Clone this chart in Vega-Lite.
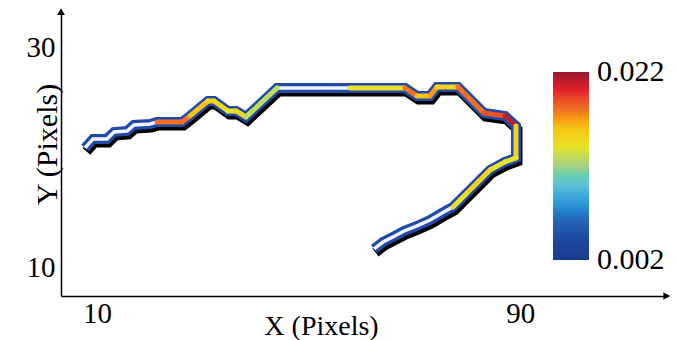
{
  "$schema": "https://vega.github.io/schema/vega-lite/v6.json",
  "width": 607,
  "height": 286,
  "autosize": {"type": "none"},
  "padding": {"left": 61, "top": 10, "right": 8, "bottom": 44},
  "background": "white",
  "config": {"view": {"stroke": null}, "font": "Liberation Serif"},
  "datasets": {
    "path": [
      {"i": 1, "x": 7.73, "y": 20.91, "v": 0.004},
      {"i": 2, "x": 9.24, "y": 21.73, "v": 0.004},
      {"i": 3, "x": 11.89, "y": 21.73, "v": 0.004},
      {"i": 4, "x": 13.21, "y": 22.36, "v": 0.004},
      {"i": 5, "x": 15.67, "y": 22.45, "v": 0.004},
      {"i": 6, "x": 16.99, "y": 23.0, "v": 0.004},
      {"i": 7, "x": 20.02, "y": 23.09, "v": 0.005},
      {"i": 8, "x": 21.34, "y": 23.27, "v": 0.018},
      {"i": 9, "x": 26.07, "y": 23.27, "v": 0.018},
      {"i": 10, "x": 27.58, "y": 23.82, "v": 0.016},
      {"i": 11, "x": 30.98, "y": 25.18, "v": 0.015},
      {"i": 12, "x": 32.12, "y": 25.18, "v": 0.015},
      {"i": 13, "x": 34.76, "y": 24.27, "v": 0.014},
      {"i": 14, "x": 36.28, "y": 24.27, "v": 0.015},
      {"i": 15, "x": 38.17, "y": 23.73, "v": 0.013},
      {"i": 16, "x": 44.03, "y": 26.36, "v": 0.004},
      {"i": 17, "x": 57.83, "y": 26.36, "v": 0.014},
      {"i": 18, "x": 68.22, "y": 26.36, "v": 0.018},
      {"i": 19, "x": 70.49, "y": 25.64, "v": 0.016},
      {"i": 20, "x": 72.95, "y": 25.64, "v": 0.017},
      {"i": 21, "x": 74.27, "y": 26.45, "v": 0.015},
      {"i": 22, "x": 78.24, "y": 26.45, "v": 0.018},
      {"i": 23, "x": 83.16, "y": 24.09, "v": 0.019},
      {"i": 24, "x": 87.13, "y": 23.82, "v": 0.021},
      {"i": 25, "x": 89.2, "y": 22.91, "v": 0.015},
      {"i": 26, "x": 89.2, "y": 20.0, "v": 0.014},
      {"i": 27, "x": 87.13, "y": 19.64, "v": 0.014},
      {"i": 28, "x": 84.29, "y": 18.91, "v": 0.015},
      {"i": 29, "x": 82.02, "y": 17.82, "v": 0.015},
      {"i": 30, "x": 79.75, "y": 16.73, "v": 0.014},
      {"i": 31, "x": 77.3, "y": 15.55, "v": 0.005},
      {"i": 32, "x": 75.22, "y": 15.0, "v": 0.004},
      {"i": 33, "x": 72.95, "y": 14.36, "v": 0.004},
      {"i": 34, "x": 70.49, "y": 13.82, "v": 0.004},
      {"i": 35, "x": 68.03, "y": 13.36, "v": 0.004},
      {"i": 36, "x": 65.95, "y": 12.82, "v": 0.004},
      {"i": 37, "x": 64.06, "y": 12.36, "v": 0.004},
      {"i": 38, "x": 62.36, "y": 11.73, "v": 0.004}
    ],
    "arrows": [
      {"dir": "up", "x": 3.19, "y": 33.3},
      {"dir": "right", "x": 117.7, "y": 7.45}
    ]
  },
  "encoding": {
    "x": {"field": "x", "type": "quantitative",
      "scale": {"domain": [3.19, 117.94], "nice": false, "zero": false},
      "axis": {"values": [10, 90], "ticks": false, "grid": false, "domainColor": "black", "domainWidth": 1.5,
        "labelFontSize": 29, "labelColor": "black", "labelFont": "Liberation Serif", "labelPadding": 3,
        "title": "X (Pixels)", "titleFont": "Liberation Serif", "titleFontSize": 28, "titleFontWeight": "normal", "titleColor": "black",
        "titleX": 260, "titleY": 38, "titleBaseline": "alphabetic"}},
    "y": {"field": "y", "type": "quantitative",
      "scale": {"domain": [7.45, 33.45], "nice": false, "zero": false},
      "axis": {"values": [10, 30], "ticks": false, "grid": false, "domainColor": "black", "domainWidth": 1.5,
        "labelFontSize": 29, "labelColor": "black", "labelFont": "Liberation Serif", "labelPadding": 6,
        "title": "Y (Pixels)", "titleFont": "Liberation Serif", "titleFontSize": 30, "titleFontWeight": "normal", "titleColor": "black",
        "titleX": -5, "titleY": 134, "titleBaseline": "alphabetic"}}
  },
  "layer": [
    {
      "data": {"name": "path"},
      "mark": {"type": "line", "color": "black", "strokeWidth": 10, "xOffset": 1.5, "yOffset": 3.5, "strokeJoin": "miter"},
      "encoding": {"order": {"field": "i", "type": "quantitative"}}
    },
    {
      "data": {"name": "path"},
      "mark": {"type": "line", "color": "#1f4aa8", "strokeWidth": 10, "strokeJoin": "miter"},
      "encoding": {"order": {"field": "i", "type": "quantitative"}}
    },
    {
      "data": {"name": "path"},
      "mark": {"type": "line", "color": "#f4f2fa", "strokeWidth": 3.5, "strokeJoin": "miter"},
      "encoding": {"order": {"field": "i", "type": "quantitative"}}
    },
    {
      "data": {"name": "path"},
      "transform": [
        {"window": [{"op": "lead", "field": "x", "as": "x2"}, {"op": "lead", "field": "y", "as": "y2"}], "sort": [{"field": "i"}]},
        {"filter": "datum.x2 != null && datum.v > 0.007"}
      ],
      "mark": {"type": "rule", "strokeWidth": 5, "strokeCap": "round"},
      "encoding": {
        "x2": {"field": "x2"},
        "y2": {"field": "y2"},
        "color": {"field": "v", "type": "quantitative",
          "scale": {"domain": [0.002, 0.022],
            "range": ["#1a3a8f", "#1d48a0", "#2460b5", "#2e98d8", "#5ec0d8", "#a8d080", "#e8e228", "#f6c414", "#f07024", "#e6222a", "#981c2c"]},
          "legend": {"title": null, "orient": "none", "legendX": 492, "legendY": 62, "direction": "vertical",
            "gradientLength": 188, "gradientThickness": 36, "gradientStrokeWidth": 0, "format": ".3f",
            "values": [0.002, 0.022], "labelFontSize": 30, "labelFont": "Liberation Serif", "labelColor": "black",
            "labelOffset": 8,
            "encode": {"labels": {"update": {"baseline": {"value": "middle"}}}}}}
      }
    },
    {
      "data": {"name": "arrows"},
      "mark": {"type": "point", "filled": true, "color": "black", "size": 60, "opacity": 1},
      "encoding": {
        "shape": {"field": "dir", "type": "nominal", "scale": {"domain": ["up", "right"], "range": ["triangle-up", "triangle-right"]}, "legend": null}
      }
    }
  ]
}
